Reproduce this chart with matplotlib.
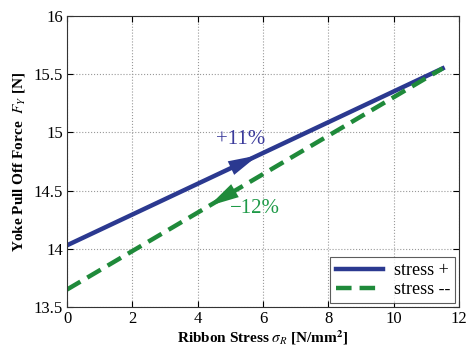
import matplotlib
matplotlib.use("Agg")
import matplotlib.pyplot as plt

x_vals = [0, 11.5]
stress_plus = [14.03, 15.55]
stress_minus = [13.65, 15.55]
labels = ["stress +", "stress --"]
xticks = [0, 2, 4, 6, 8, 10, 12]
yticks = [13.5, 14, 14.5, 15, 15.5, 16]

plt.rcParams['font.family'] = ['Liberation Serif', 'DejaVu Serif']
plt.rcParams['mathtext.fontset'] = 'stix'

fig = plt.figure(figsize=(4.7, 3.47), dpi=100)
ax = fig.add_axes([67/470, 40/347, 392/470, 291/347])

blue = '#2b3990'
green = '#1f8a3a'
ax.plot(x_vals, stress_plus, color=blue, lw=3.2, label=labels[0])
ax.plot(x_vals, stress_minus, color=green, lw=3.2, ls=(0, (3.5, 1.8)), label=labels[1])

def interp(xs, ys, x):
    return ys[0] + (ys[1] - ys[0]) * (x - xs[0]) / (xs[1] - xs[0])

# arrows
ax.annotate('', xy=(5.85, interp(x_vals, stress_plus, 5.85)),
            xytext=(5.0, interp(x_vals, stress_plus, 5.0)),
            arrowprops=dict(arrowstyle='-|>,head_length=1.2,head_width=0.3', mutation_scale=18,
                            color=blue, lw=0, shrinkA=0, shrinkB=0))
ax.annotate('', xy=(4.35, interp(x_vals, stress_minus, 4.35)),
            xytext=(5.2, interp(x_vals, stress_minus, 5.2)),
            arrowprops=dict(arrowstyle='-|>,head_length=1.2,head_width=0.3', mutation_scale=18,
                            color=green, lw=0, shrinkA=0, shrinkB=0))

ax.text(4.55, 14.94, '+11%', color='#3b3b9b', fontsize=15, va='center', ha='left')
ax.text(5.0, 14.35, '\u221212%', color='#1f9a48', fontsize=15, va='center', ha='left')

ax.set_xlim(0, 12)
ax.set_ylim(13.5, 16)
ax.set_xticks(xticks)
ax.set_yticks(yticks)
ax.set_yticklabels(['13.5', '14', '14.5', '15', '15.5', '16'])
ax.tick_params(labelsize=12, direction='in', length=4, top=True, right=True, pad=3)
ax.grid(True, color='#999999', ls=':', lw=0.8)
for s in ax.spines.values():
    s.set_color('#333333')
    s.set_linewidth(0.8)

ax.set_xlabel(r'Ribbon Stress $\sigma_R$ [N/mm$^\mathbf{2}$]', fontsize=11, fontweight='bold', labelpad=1)
ax.set_ylabel(r'Yoke Pull Off Force  $F_Y$ [N]', fontsize=11, fontweight='bold', labelpad=5)

leg = ax.legend(loc='lower right', fontsize=13, frameon=True, fancybox=False,
                edgecolor='#333333', borderaxespad=0.2, handlelength=2.6, labelspacing=0.1,
                borderpad=0.3, handletextpad=0.6)
leg.get_frame().set_linewidth(0.8)

fig.savefig('out.png', dpi=100)
